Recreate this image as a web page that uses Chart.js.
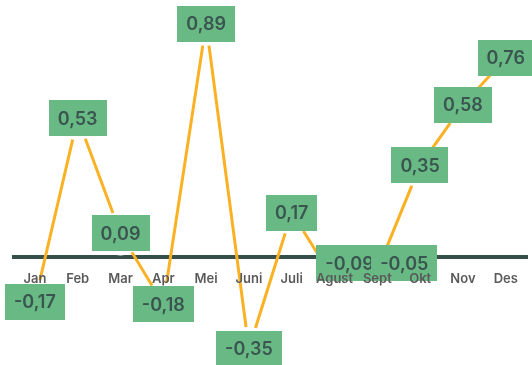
<!DOCTYPE html>
<html>
<head>
<meta charset="utf-8">
<script src="https://cdn.jsdelivr.net/npm/chart.js@4.4.1/dist/chart.umd.min.js"></script>
<style>
  html, body { margin: 0; padding: 0; background: #ffffff; }
  #wrap { width: 532px; height: 365px; position: relative; }
</style>
</head>
<body>
<div id="wrap"><canvas id="chart"></canvas></div>
<script>
// Monthly change, Jan–Des
const months = ['Jan', 'Feb', 'Mar', 'Apr', 'Mei', 'Juni', 'Juli', 'Agust', 'Sept', 'Okt', 'Nov', 'Des'];
const values = [-0.17, 0.53, 0.09, -0.18, 0.89, -0.35, 0.17, -0.09, -0.05, 0.35, 0.58, 0.76];

const LINE_COLOR = '#fbb124';
const AXIS_COLOR = '#35504b';
const BOX_COLOR = '#68b983';
const BOX_TEXT = '#3a5550';

function formatValue(v) {
  return v.toFixed(2).replace('.', ',');
}

// Green value boxes centred on every point (a few nudged aside where they crowd)
const valueBoxes = {
  id: 'valueBoxes',
  afterDatasetsDraw(chart, args, opts) {
    const ctx = chart.ctx;
    const meta = chart.getDatasetMeta(0);
    const data = chart.data.datasets[0].data;
    const shifts = opts.shifts || {};
    ctx.save();
    ctx.font = '600 18px Inter, "Open Sans", sans-serif';
    ctx.textAlign = 'center';
    ctx.textBaseline = 'middle';
    meta.data.forEach((pt, i) => {
      const label = formatValue(data[i]);
      const [dx, dy] = shifts[chart.data.labels[i]] || [0, 0];
      const cx = pt.x + dx;
      const cy = pt.y + dy;
      const w = ctx.measureText(label).width + 18;
      const h = 36;
      ctx.fillStyle = BOX_COLOR;
      ctx.fillRect(Math.round(cx - w / 2), Math.round(cy - h / 2), Math.round(w), h);
      ctx.fillStyle = BOX_TEXT;
      ctx.fillText(label, cx, cy + 1);
    });
    ctx.restore();
  }
};

new Chart(document.getElementById('chart'), {
  type: 'line',
  data: {
    labels: months,
    datasets: [{
      data: values,
      borderColor: LINE_COLOR,
      borderWidth: 3,
      tension: 0,
      fill: false,
      clip: false,
      pointRadius: 22,
      pointHoverRadius: 22,
      pointBackgroundColor: '#ffffff',
      pointBorderWidth: 0,
      pointHoverBorderWidth: 0
    }]
  },
  options: {
    responsive: true,
    maintainAspectRatio: false,
    animation: false,
    events: [],
    layout: { autoPadding: false, padding: { left: 13.5, right: 3.5, top: 0, bottom: 0 } },
    plugins: {
      legend: { display: false },
      tooltip: { enabled: false },
      valueBoxes: { shifts: { Agust: [15, -17.5], Sept: [27, -7] } }
    },
    scales: {
      x: {
        type: 'category',
        position: { y: 0 },
        offset: true,
        afterFit(scale) { scale.height = 0; },
        grid: { display: false, drawTicks: false },
        border: { display: true, color: AXIS_COLOR, width: 4 },
        ticks: {
          z: 1,
          padding: 14,
          color: '#5a5a5a',
          font: { family: 'Inter, "Open Sans", sans-serif', size: 13, weight: '600' },
          maxRotation: 0,
          autoSkip: false
        }
      },
      y: {
        display: false,
        min: -0.412,
        max: 0.981
      }
    }
  },
  plugins: [valueBoxes]
});
</script>
</body>
</html>
